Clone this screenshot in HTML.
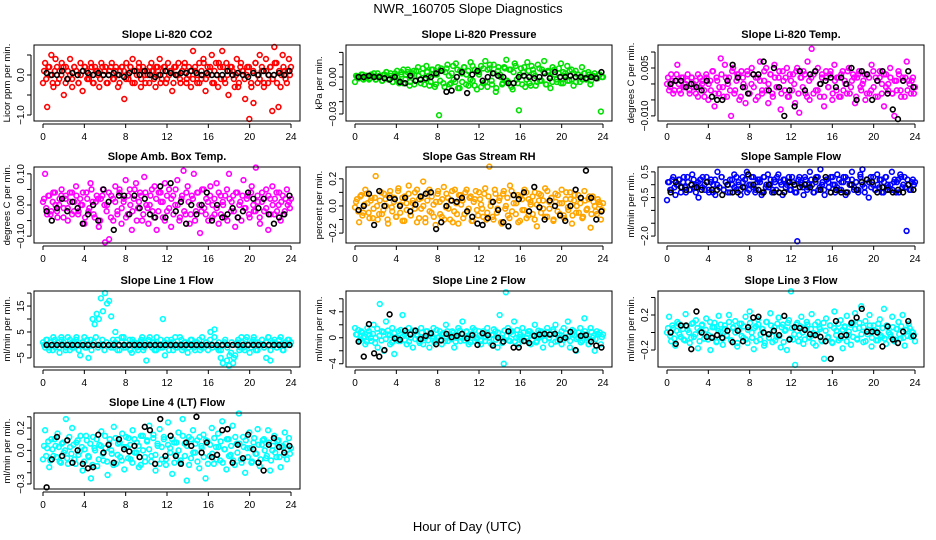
<!DOCTYPE html>
<html><head><meta charset="utf-8"><style>
html,body{margin:0;padding:0;background:#fff;}
svg{display:block;font-family:"Liberation Sans",Arial,sans-serif;}
</style></head><body>
<svg id="chart" width="936" height="540" viewBox="0 0 936 540" xmlns="http://www.w3.org/2000/svg">
<rect width="936" height="540" fill="#fff"/>
<text x="468" y="13" text-anchor="middle" font-size="13">NWR_160705  Slope Diagnostics</text>
<text x="467" y="531" text-anchor="middle" font-size="13">Hour of Day (UTC)</text>
</svg>
<script>
const xTicks=[0,4,8,12,16,20,24];
const co2Vals=[-0.2,0.3,-0.8,0.2,0.5,-0.3,0.4,-0.2,0.1,0.3,-0.5,0.2,-0.1,0.4,-0.3,0.2,0.1,-0.2,0.3,-0.4,0.2,0.1,-0.1,0.3,-0.2,0.2,0.1,-0.3,0.3,0.0,0.2,-0.2,0.1,0.3,-0.1,0.2,-0.3,0.1,0.2,-0.6,0.3,-0.1,0.2,0.4,-0.2,0.1,0.3,-0.3,0.2,0.0,0.1,-0.2,0.3,0.1,-0.3,0.2,0.4,-0.1,0.2,-0.2,0.3,0.1,-0.4,0.2,0.0,0.3,-0.2,0.1,0.3,-0.1,0.2,-0.3,0.6,0.1,-0.2,0.3,-0.1,0.4,-0.4,0.2,0.1,0.5,-0.2,0.3,-0.3,0.2,0.6,-0.1,0.3,-0.5,0.2,0.1,-0.3,0.4,-0.2,0.3,0.1,-0.6,0.2,-1.1,-0.3,-0.7,0.3,-0.2,0.5,0.1,-0.3,0.4,-0.2,0.2,-0.9,0.7,0.3,-0.8,-0.3,0.5,0.1,-0.2,0.4,0.2];
const co2Fill=[0.1,-0.1,0.2,0.0,-0.2,0.1,0.2,-0.1,0.0,0.2,-0.2,0.1,0.0,-0.1,0.2,0.1,-0.2,0.0,0.1,0.2,-0.1,0.0,0.2,-0.2,0.1,0.0,-0.1,0.2,0.1,-0.2,0.0,0.2,-0.1,0.1,0.0,-0.2,0.2,0.1,-0.1,0.0,0.2,-0.2,0.1,0.0,0.2,-0.1,0.1,-0.2,0.0,0.2,0.1,-0.1,0.2,0.0,-0.2,0.1,0.2,-0.1,0.0,0.1,-0.2,0.2,0.0,-0.1,0.1,0.2,-0.2,0.0,0.1,-0.1,0.2,0.0,-0.2,0.1,0.3,-0.1,0.0,0.2,-0.2,0.1,0.0,0.3,-0.1,0.2,-0.2,0.0,0.1,0.2,-0.1,0.0,-0.3,0.2,0.1,-0.1,0.0,0.2,-0.2,0.1,0.3,0.0,-0.1,0.2,-0.2,0.1,0.0,0.2,-0.1,0.3,-0.2,0.1,0.0,0.2,-0.1,0.1,0.0];
const co2Blk=[0.05,0.0,0.0,0.1,-0.1,0.05,0.0,0.1,0.05,0.0,0.05,0.0,0.0,0.05,0.0,-0.05,0.05,0.1,0.0,0.1,0.0,-0.05,0.0,0.1,0.05,0.0,0.05,0.05,0.1,0.05,0.0,0.05,0.0,0.0,0.0,0.1,0.0,0.05,0.0,-0.05,0.05,0.0,0.1,0.0,0.0,0.05,0.0,0.1];
const presVals=[-0.004,0.000,-0.001,0.002,-0.002,0.001,0.000,-0.001,0.001,0.003,-0.002,0.000,0.001,-0.003,0.002,0.004,-0.001,0.001,-0.004,0.003,0.000,-0.005,0.002,0.006,-0.002,0.004,-0.007,0.001,0.005,-0.003,0.008,-0.002,0.003,-0.006,0.009,0.001,-0.004,0.006,-0.008,0.002,-0.031,0.007,-0.005,0.004,0.010,-0.006,0.003,-0.002,0.011,-0.009,0.005,-0.004,0.008,0.002,-0.007,0.012,-0.003,0.006,-0.010,0.004,0.009,-0.005,0.013,-0.008,0.007,-0.003,0.010,-0.012,0.005,0.002,-0.006,0.008,0.014,-0.004,0.006,-0.010,0.011,-0.002,-0.027,0.007,0.004,-0.008,0.012,-0.005,0.009,0.003,-0.007,0.010,-0.003,0.006,0.013,-0.006,0.004,-0.009,0.008,0.002,-0.004,0.007,0.011,-0.005,0.003,0.009,-0.003,0.006,-0.007,0.005,0.002,-0.004,0.008,0.003,-0.002,0.004,-0.006,0.001,0.003,-0.001,0.002,-0.028,0.000];
const presFill=[0.001,-0.001,0.000,0.002,-0.001,0.001,-0.002,0.002,0.000,-0.002,0.003,0.001,-0.003,0.002,0.004,-0.002,0.003,-0.004,0.001,0.005,-0.003,0.004,-0.005,0.002,0.006,-0.004,0.003,-0.006,0.005,0.001,-0.005,0.007,-0.002,0.004,-0.007,0.006,0.002,-0.006,0.008,-0.003,0.005,-0.008,0.007,0.001,-0.005,0.009,-0.004,0.006,-0.009,0.003,0.008,-0.006,0.005,-0.002,0.009,-0.007,0.004,0.002,-0.008,0.007,-0.004,0.006,0.010,-0.006,0.003,-0.009,0.008,0.000,-0.005,0.007,-0.003,0.006,-0.008,0.004,0.009,-0.005,0.002,-0.006,0.008,-0.002,0.005,-0.007,0.006,0.001,-0.004,0.007,-0.003,0.004,-0.006,0.005,0.000,-0.004,0.006,-0.002,0.003,-0.005,0.004,0.001,-0.003,0.005,-0.002,0.003,-0.004,0.002,0.000,-0.002,0.003,-0.001,0.002,-0.003,0.001,0.000,-0.001,0.002,0.000];
const presBlk=[0.000,0.000,0.001,0.000,0.000,-0.001,-0.002,0.000,-0.004,-0.005,0.001,-0.003,-0.002,-0.001,0.000,0.003,0.005,-0.012,-0.011,0.000,0.004,-0.013,0.002,0.005,-0.003,0.000,0.003,0.001,0.000,-0.005,-0.005,0.000,0.001,0.000,-0.001,0.000,0.003,-0.001,0.004,0.000,0.000,0.001,0.000,0.000,-0.001,0.000,-0.001,0.004];
const tempVals=[0.000,-0.002,0.003,-0.003,0.001,0.006,-0.002,0.002,-0.001,0.000,0.003,-0.003,0.002,-0.001,0.001,-0.004,0.002,0.000,-0.002,0.003,-0.005,0.001,0.004,-0.007,0.002,-0.003,0.008,-0.001,0.006,-0.004,0.002,-0.010,0.005,-0.002,0.003,-0.005,0.004,0.000,-0.006,0.003,-0.003,0.005,-0.001,0.002,-0.004,0.007,-0.002,0.001,0.005,-0.006,0.003,-0.003,0.006,-0.001,0.002,-0.008,0.004,-0.002,0.005,-0.004,0.001,0.003,-0.006,0.005,-0.009,0.002,0.004,-0.003,0.007,-0.005,0.011,0.003,-0.002,0.005,-0.004,0.002,-0.007,0.004,-0.001,0.003,-0.005,0.006,-0.002,0.002,-0.004,0.004,0.001,-0.003,0.005,-0.001,0.003,-0.006,0.002,0.004,-0.002,0.001,-0.005,0.003,-0.003,0.006,-0.001,0.002,-0.004,0.004,0.000,-0.007,0.003,-0.002,0.005,-0.003,-0.010,0.001,0.004,-0.002,0.002,-0.004,0.007,0.001,-0.003,0.002,-0.001];
const tempFill=[0.002,-0.001,0.001,-0.002,0.003,0.000,-0.003,0.002,-0.001,0.001,-0.002,0.002,0.000,-0.003,0.003,-0.001,0.001,-0.004,0.002,0.000,-0.002,0.004,-0.003,0.001,-0.001,0.003,-0.004,0.002,0.000,-0.002,0.004,-0.003,0.001,0.003,-0.004,0.002,-0.001,0.004,-0.003,0.000,0.003,-0.005,0.002,0.001,-0.003,0.004,-0.002,0.000,0.003,-0.004,0.002,-0.001,0.004,-0.003,0.001,0.002,-0.004,0.003,-0.002,0.000,0.004,-0.003,0.002,-0.001,0.003,-0.004,0.001,0.002,-0.003,0.004,-0.002,0.000,0.003,-0.004,0.002,-0.001,0.004,-0.003,0.001,0.002,-0.004,0.003,-0.002,0.000,0.004,-0.003,0.001,0.002,-0.004,0.003,-0.001,0.000,0.003,-0.003,0.002,-0.002,0.004,-0.004,0.001,0.002,-0.003,0.003,-0.001,0.000,0.002,-0.003,0.001,-0.002,0.003,-0.004,0.001,0.002,-0.002,0.000,0.001,-0.003];
const tempBlk=[0.000,0.001,0.001,-0.001,0.000,-0.001,-0.002,0.001,-0.004,-0.005,-0.005,0.001,0.006,0.002,-0.001,-0.003,0.003,0.003,0.007,-0.002,0.005,-0.001,-0.010,-0.002,-0.007,0.004,-0.002,0.003,0.004,0.000,0.001,0.002,-0.001,0.002,0.000,0.005,-0.005,0.004,0.003,-0.005,0.001,0.004,-0.003,-0.008,-0.011,0.001,0.004,-0.001];
const boxVals=[0.01,0.10,-0.03,0.03,-0.02,0.04,0.00,-0.04,0.02,0.05,-0.01,0.03,-0.05,0.01,0.04,-0.02,0.06,-0.03,0.02,0.00,-0.06,0.04,-0.02,0.07,0.01,-0.04,0.03,-0.07,0.02,0.05,-0.12,0.00,-0.11,0.03,-0.05,0.06,-0.02,0.04,-0.06,0.01,0.08,-0.03,0.05,-0.08,0.02,0.07,-0.01,0.04,-0.05,0.09,0.00,-0.06,0.03,-0.02,0.06,-0.08,0.04,0.01,-0.04,0.07,-0.02,0.05,-0.07,0.03,0.00,0.08,-0.05,0.02,0.11,-0.03,0.06,-0.06,0.03,0.10,-0.02,0.04,-0.09,0.05,-0.01,0.02,-0.05,0.06,0.00,-0.03,0.07,-0.06,0.03,0.01,-0.04,0.05,0.10,-0.02,0.03,-0.07,0.04,0.00,-0.05,0.08,-0.01,0.03,-0.04,0.06,-0.02,0.12,0.01,-0.06,0.04,-0.02,0.05,-0.08,0.02,0.06,-0.03,0.04,0.00,-0.05,0.03,-0.02,0.05,0.01,0.02];
const boxFill=[0.02,-0.01,0.03,-0.03,0.01,0.04,-0.02,0.00,0.03,-0.04,0.02,-0.01,0.04,-0.03,0.01,0.03,-0.02,0.00,0.04,-0.04,0.02,-0.01,0.05,-0.03,0.01,0.02,-0.05,0.03,0.00,-0.02,0.04,-0.04,0.02,0.01,-0.03,0.05,-0.01,0.02,-0.04,0.03,0.00,-0.02,0.05,-0.05,0.01,0.03,-0.03,0.04,-0.01,0.00,0.05,-0.04,0.02,-0.02,0.04,0.01,-0.05,0.03,-0.01,0.02,-0.03,0.05,0.00,-0.04,0.03,-0.02,0.04,0.01,-0.03,0.02,-0.05,0.04,0.00,-0.02,0.05,-0.03,0.01,0.03,-0.04,0.02,-0.01,0.04,-0.03,0.00,0.03,-0.05,0.02,0.01,-0.02,0.04,-0.04,0.01,0.03,-0.01,0.02,-0.03,0.04,0.00,-0.02,0.03,-0.04,0.01,0.02,-0.01,0.03,-0.03,0.00,0.02,-0.02,0.04,0.01,-0.03,0.02,0.00,-0.01];
const boxBlk=[-0.02,-0.05,-0.01,0.02,-0.02,0.01,-0.01,-0.06,-0.03,0.00,-0.05,0.05,0.01,-0.08,0.03,0.03,-0.03,0.03,-0.01,0.02,-0.03,-0.04,0.06,-0.04,0.07,-0.02,0.01,-0.06,0.00,-0.03,0.00,0.04,-0.05,0.00,-0.04,-0.03,-0.01,-0.04,-0.02,0.04,0.02,-0.01,0.02,-0.03,-0.06,-0.04,-0.03,0.03];
const rhVals=[-0.01,0.05,-0.12,0.08,-0.05,0.12,0.02,-0.09,0.06,-0.02,0.22,-0.10,0.04,-0.06,0.09,0.00,-0.13,0.11,-0.04,0.06,-0.08,0.13,0.01,-0.11,0.07,-0.03,0.15,-0.07,0.02,0.10,-0.12,0.05,-0.02,0.18,-0.09,0.04,0.12,-0.05,0.01,-0.14,0.09,0.03,-0.08,0.14,-0.01,0.06,-0.10,0.11,-0.04,0.02,-0.13,0.08,0.04,-0.06,0.12,-0.02,0.07,-0.11,0.05,-0.03,0.10,0.01,-0.08,0.13,-0.05,0.29,0.03,-0.10,0.09,-0.02,0.06,-0.13,0.11,0.00,-0.07,0.15,-0.04,0.08,0.02,-0.12,0.07,-0.03,0.12,-0.09,0.05,0.01,-0.06,0.10,-0.15,0.04,0.08,-0.02,0.13,-0.08,0.03,0.06,-0.11,0.09,-0.04,0.02,0.12,-0.07,0.05,-0.01,0.10,-0.13,0.04,-0.05,0.08,0.02,-0.09,0.11,-0.03,0.05,-0.16,0.07,0.00,-0.06,0.03,-0.10,0.02];
const rhFill=[0.03,-0.04,0.07,-0.07,0.01,0.09,-0.05,0.04,-0.09,0.06,0.00,-0.06,0.10,-0.03,0.05,-0.10,0.08,-0.01,0.03,-0.08,0.11,-0.05,0.06,-0.11,0.02,0.09,-0.07,0.04,-0.02,0.12,-0.09,0.06,0.00,-0.12,0.10,-0.04,0.07,-0.08,0.03,0.11,-0.06,0.05,-0.10,0.09,-0.02,0.04,-0.12,0.12,-0.06,0.08,0.01,-0.09,0.10,-0.04,0.06,-0.11,0.03,0.11,-0.07,0.05,-0.02,0.09,-0.10,0.07,0.00,-0.08,0.12,-0.05,0.04,-0.12,0.09,-0.02,0.06,-0.09,0.11,0.02,-0.06,0.08,-0.11,0.05,-0.03,0.10,-0.07,0.03,0.07,-0.10,0.01,0.09,-0.05,0.04,-0.08,0.11,-0.02,0.06,-0.10,0.03,0.08,-0.06,0.02,-0.09,0.10,-0.03,0.05,-0.07,0.08,0.00,-0.05,0.06,-0.08,0.04,-0.02,0.07,-0.06,0.03,-0.04,0.05,0.01,-0.03];
const rhBlk=[-0.03,0.00,0.09,-0.14,0.11,0.00,0.06,0.05,0.00,0.06,-0.04,0.01,0.07,0.09,0.10,-0.17,-0.12,0.00,0.04,0.03,0.06,-0.04,-0.08,-0.13,-0.14,-0.09,0.03,-0.03,-0.12,-0.15,0.08,0.05,0.10,-0.04,0.14,-0.01,-0.10,0.04,0.00,-0.07,-0.11,0.00,0.12,0.06,0.26,0.06,-0.10,-0.04];
const flowVals=[-0.6,0.1,-0.2,0.3,-0.4,0.0,0.2,-0.1,0.3,-0.3,0.1,-0.2,0.4,-0.1,0.0,-0.5,0.2,0.3,-0.2,0.1,-0.3,0.2,0.0,-0.4,0.5,-0.1,0.3,-0.2,0.1,-0.3,0.2,0.0,0.4,-0.2,0.1,-0.4,0.3,-0.1,0.5,-0.2,0.0,0.3,-0.3,0.1,0.2,-0.4,0.3,-0.1,0.4,0.0,-0.3,0.2,-0.2,0.4,0.1,-0.4,0.2,0.0,0.3,-0.2,0.1,-0.3,-2.2,0.3,0.0,-0.4,0.2,-0.1,0.5,0.0,-0.3,0.3,-0.2,0.6,0.1,-0.4,0.2,-0.1,0.3,0.0,-0.3,0.4,-0.2,0.1,0.3,-0.4,0.2,0.0,0.5,-0.2,0.1,-0.3,0.4,0.6,-0.1,0.2,-0.5,0.3,0.0,-0.2,0.4,-0.1,0.2,-0.3,0.3,0.0,-0.2,0.5,0.1,-0.3,0.2,0.4,-0.1,0.3,-1.8,0.0,-0.2,0.2,0.1];
const flowFill=[0.1,-0.2,0.2,-0.1,0.0,0.2,-0.3,0.1,-0.1,0.3,-0.2,0.0,0.2,-0.3,0.1,0.2,-0.1,0.0,0.3,-0.2,0.1,-0.3,0.2,0.0,-0.1,0.3,-0.2,0.1,0.0,-0.3,0.2,-0.1,0.3,0.0,-0.2,0.1,0.2,-0.3,0.0,0.3,-0.1,-0.2,0.2,0.1,-0.3,0.3,0.0,-0.1,0.2,-0.2,0.1,0.3,-0.3,0.0,0.2,-0.1,0.1,-0.2,0.3,0.0,-0.3,0.2,0.1,-0.1,0.3,-0.2,0.0,0.2,-0.3,0.1,0.3,-0.1,0.0,-0.2,0.2,0.1,-0.3,0.3,0.0,-0.1,0.2,-0.2,0.1,0.3,-0.3,0.0,0.2,-0.1,0.1,-0.2,0.3,0.0,-0.3,0.2,0.1,-0.1,0.3,-0.2,0.0,0.2,-0.3,0.1,0.3,-0.1,0.0,-0.2,0.2,0.1,-0.3,0.3,0.0,-0.1,0.2,-0.2,0.1,0.0];
const flowBlk=[-0.3,0.1,-0.1,-0.2,0.0,-0.1,-0.2,0.1,-0.2,-0.2,-0.4,0.0,-0.3,-0.3,-0.1,0.4,0.0,-0.2,-0.3,0.0,-0.3,-0.3,-0.3,0.1,0.0,-0.1,0.0,-0.1,0.2,-0.2,0.3,-0.3,-0.2,-0.3,-0.3,0.0,-0.2,0.1,0.2,0.1,-0.3,-0.1,-0.2,-0.3,-0.2,-0.3,0.0,-0.2];
const l1Vals=[1,-1,2,-2,0,3,-1,1,-3,2,0,-1,3,-2,1,-1,2,0,-4,1,3,-1,-5,2,10,8,12,10,18,13,20,16,17,11,-1,5,2,-2,1,3,-1,0,2,-3,1,0,-2,1,3,-1,-6,2,0,1,-2,3,0,-1,10,-4,2,0,1,-2,3,-1,0,2,-1,1,-3,0,2,-1,1,0,-2,3,-1,1,0,5,-1,6,0,-2,-5,-7,1,-6,-8,-3,-7,-4,1,-2,3,-1,2,0,-3,1,3,-2,1,0,2,-1,-5,3,-6,1,2,-1,0,3,-2,1,0,2,1];
const l1Fill=[0,2,-1,1,-2,2,0,-1,3,1,-2,0,2,-1,1,3,-2,0,1,-1,2,0,-2,1,3,-1,0,2,-2,1,0,-1,2,1,-2,0,3,-1,1,0,-2,2,1,-1,0,2,-2,1,0,3,-1,1,-2,0,2,-1,1,0,-2,2,1,-1,0,3,-2,1,0,-1,2,0,-2,1,2,-1,0,1,-2,2,0,3,-1,1,-2,0,2,-1,-4,1,-5,0,2,-1,1,-2,3,0,-1,2,1,-2,0,2,-1,1,3,-2,0,1,-1,2,0,-2,1,2,0];
const l1Blk=[0,0,0,0,0,0,0,0,0,0,0,0,0,0,0,0,0,0,0,0,0,0,0,0,0,0,0,0,0,0,0,0,0,0,0,0,0,0,0,0,0,0,0,0,0,0,0,0];
const l2Vals=[1.5,0.5,-0.5,1.0,0.0,-1.0,1.5,0.5,-0.5,2.0,0.0,-1.5,5.2,1.0,-2.0,2.5,0.5,-1.0,1.5,-2.5,0.0,1.0,-0.5,3.5,0.5,-1.0,1.5,0.0,-1.5,1.0,0.5,-0.5,1.5,-1.0,0.0,1.0,-1.5,0.5,1.5,-0.5,0.0,1.0,-1.0,0.5,2.0,-0.5,0.5,1.0,-1.5,0.0,1.5,-0.5,2.5,0.0,1.0,-1.0,0.5,1.5,-0.5,0.0,1.0,-1.0,0.5,-0.5,1.5,0.0,-1.0,0.5,1.0,-1.5,3.5,0.0,-4.0,7.0,1.5,-0.5,1.0,2.5,0.0,-1.0,0.5,1.5,-0.5,0.0,1.0,-1.0,0.5,2.0,-0.5,0.0,1.0,-1.5,0.5,1.5,0.0,-1.0,1.0,2.0,-0.5,0.5,-1.0,1.5,0.0,2.5,-1.5,0.5,1.0,-2.0,0.0,1.5,-0.5,3.0,0.5,-1.0,1.5,0.0,-2.0,1.0,0.5,-1.0,0.5];
const l2Fill=[0.5,1.2,-0.3,0.8,0.2,-0.6,1.0,0.0,0.6,-0.8,1.4,0.3,-0.4,0.9,-0.2,1.1,0.4,-0.7,0.7,0.1,-0.5,1.2,0.2,-0.3,0.9,-0.6,0.5,1.1,-0.2,0.3,-0.8,0.8,0.0,1.0,-0.4,0.6,0.2,-0.7,1.2,0.1,-0.3,0.7,-0.5,1.0,0.3,-0.2,0.8,-0.6,0.4,1.1,0.0,-0.4,0.9,0.2,-0.7,0.6,1.2,-0.2,0.3,-0.5,1.0,0.1,0.7,-0.6,0.4,1.3,-0.3,0.8,0.0,-0.8,1.1,0.3,-0.4,0.9,0.5,-0.6,1.2,0.1,-0.2,0.8,-0.5,0.6,1.0,-0.3,0.3,-0.7,1.1,0.2,0.7,-0.4,0.9,-0.1,0.5,1.3,-0.6,0.4,0.0,1.0,-0.3,0.7,0.2,-0.5,1.2,0.4,-0.2,0.8,-0.7,0.6,1.0,0.0,-0.4,0.9,0.3,-0.2,0.6,0.8,0.1];
const l2Blk=[-0.6,-2.9,2.1,-2.4,-2.9,-1.9,3.6,-0.1,-0.3,1.1,0.5,1.1,-0.2,0.3,0.7,-1.0,-0.4,0.6,0.1,0.3,0.6,-0.1,0.4,-1.1,0.7,0.4,-1.2,0.0,-0.6,1.0,-1.5,-1.5,-0.5,-0.8,0.3,0.5,0.6,0.5,0.6,-0.3,0.0,0.9,-1.9,0.3,0.4,-0.6,-1.2,-1.5];
const l3Vals=[0.00,0.18,-0.10,0.05,-0.15,0.12,-0.02,0.08,-0.08,0.21,0.03,-0.12,0.10,-0.05,0.14,-0.18,0.02,0.09,-0.07,0.16,-0.03,-0.20,0.06,0.11,-0.10,0.19,0.01,-0.14,0.08,-0.04,0.20,-0.09,0.05,0.13,-0.16,0.03,0.10,-0.06,0.18,-0.12,0.24,0.00,-0.19,0.07,0.15,-0.08,0.04,-0.15,0.12,-0.02,0.22,-0.11,0.06,-0.05,0.17,-0.17,0.09,0.02,-0.20,0.14,0.47,-0.08,-0.37,0.11,-0.03,0.18,-0.13,0.05,0.09,-0.06,0.21,-0.01,-0.15,0.12,0.04,-0.10,-0.30,0.16,-0.05,0.08,-0.12,0.24,0.02,-0.09,0.14,-0.18,0.06,0.19,-0.03,-0.14,0.11,0.22,-0.07,0.05,0.30,-0.11,0.13,-0.02,0.20,-0.16,0.08,0.02,-0.09,0.15,-0.05,0.27,-0.13,0.07,-0.02,0.18,-0.10,0.04,0.12,-0.07,0.20,-0.15,0.03,0.10,-0.05,0.00,-0.10];
const l3Fill=[0.05,-0.04,0.08,-0.07,0.02,0.10,-0.05,0.04,-0.09,0.07,0.00,-0.06,0.11,-0.02,0.05,-0.10,0.08,-0.01,0.03,-0.08,0.12,-0.05,0.06,-0.11,0.02,0.09,-0.07,0.04,-0.03,0.12,-0.09,0.06,0.00,-0.12,0.10,-0.04,0.07,-0.08,0.03,0.11,-0.06,0.05,-0.10,0.09,-0.02,0.04,-0.12,0.12,-0.06,0.08,0.01,-0.09,0.10,-0.04,0.06,-0.11,0.03,0.11,-0.07,0.05,-0.02,0.09,-0.10,0.07,0.00,-0.08,0.12,-0.05,0.04,-0.12,0.09,-0.02,0.06,-0.09,0.11,0.02,-0.06,0.08,-0.11,0.05,-0.03,0.10,-0.07,0.03,0.07,-0.10,0.01,0.09,-0.05,0.04,-0.08,0.11,-0.02,0.06,-0.10,0.03,0.08,-0.06,0.02,-0.09,0.10,-0.03,0.05,-0.07,0.08,0.00,-0.05,0.06,-0.08,0.04,-0.02,0.07,-0.06,0.03,-0.04,0.05,0.01,-0.03];
const l3Blk=[0.00,-0.13,0.08,0.08,-0.19,0.24,0.00,-0.05,-0.06,-0.03,-0.06,0.02,-0.11,0.02,-0.10,0.06,0.17,0.18,0.00,-0.02,0.02,-0.03,0.19,-0.08,0.06,0.05,0.03,-0.02,-0.03,-0.05,-0.10,-0.30,0.13,-0.04,-0.03,0.11,0.17,0.27,0.01,0.01,0.00,-0.16,0.07,-0.08,-0.12,0.01,0.13,-0.04];
const l4Vals=[-0.08,0.18,0.02,-0.15,0.10,-0.05,0.04,0.15,-0.10,0.06,-0.02,0.28,-0.12,0.03,0.20,-0.08,0.07,-0.04,0.13,-0.18,0.01,0.09,-0.06,-0.25,0.12,0.00,-0.14,0.05,0.17,-0.09,0.02,-0.22,0.10,-0.03,0.21,-0.12,0.06,-0.06,0.15,-0.17,0.03,0.11,-0.08,0.18,-0.02,0.07,-0.15,0.13,0.00,-0.10,0.09,0.22,-0.05,0.14,-0.18,0.04,0.19,-0.08,0.10,-0.13,0.25,0.02,-0.21,0.07,-0.04,0.16,-0.11,0.28,0.06,-0.27,0.12,-0.07,0.18,-0.02,0.09,-0.16,0.04,0.14,-0.25,0.08,-0.05,0.20,-0.12,0.03,0.15,-0.09,0.26,0.01,-0.17,0.10,-0.04,0.22,-0.13,0.06,0.33,-0.08,0.12,-0.20,0.02,0.16,-0.11,0.07,-0.03,0.19,-0.14,0.05,0.10,-0.07,0.18,-0.18,0.00,0.13,-0.06,0.09,-0.15,0.04,0.16,-0.08,0.11,0.02];
const l4Fill=[0.04,-0.05,0.08,-0.09,0.01,0.10,-0.06,0.03,-0.11,0.07,0.00,-0.07,0.12,-0.03,0.05,-0.12,0.09,-0.01,0.03,-0.10,0.13,-0.05,0.06,-0.13,0.02,0.10,-0.08,0.04,-0.03,0.13,-0.10,0.06,0.00,-0.13,0.11,-0.04,0.07,-0.09,0.03,0.12,-0.07,0.05,-0.11,0.10,-0.02,0.04,-0.13,0.13,-0.06,0.08,0.01,-0.10,0.11,-0.04,0.06,-0.12,0.03,0.12,-0.08,0.05,-0.02,0.10,-0.11,0.07,0.00,-0.09,0.13,-0.05,0.04,-0.13,0.10,-0.02,0.06,-0.10,0.12,0.02,-0.06,0.09,-0.12,0.05,-0.03,0.11,-0.08,0.03,0.08,-0.11,0.01,0.10,-0.05,0.04,-0.09,0.12,-0.02,0.06,-0.11,0.03,0.09,-0.06,0.02,-0.10,0.11,-0.03,0.05,-0.08,0.09,0.00,-0.05,0.07,-0.09,0.04,-0.02,0.08,-0.06,0.03,-0.04,0.06,0.01,-0.03];
const l4Blk=[-0.33,-0.08,0.12,-0.05,0.09,-0.11,0.00,-0.12,-0.16,-0.15,0.14,-0.02,0.05,-0.11,0.10,0.01,-0.01,0.04,-0.06,0.21,0.18,-0.12,0.28,-0.05,0.13,-0.05,-0.12,0.07,0.04,0.30,-0.02,0.07,-0.06,-0.04,0.18,0.19,-0.11,0.05,-0.07,0.14,0.01,-0.11,-0.18,0.05,0.11,0.03,-0.02,0.04];

const colX=[34,346,658], rowY=[45,167,291,413], PW=266, PH=76;
const panels=[
 {id:'co2',t:'Slope Li-820 CO2',yl:'Licor ppm per min.',c:'#ff0000',v:co2Vals,f:co2Fill,b:co2Blk,d:[-1.15,0.75],ticks:[-1.0,-0.5,0.0,0.5],lab:{'-1':'-1.0','0':'0.0'}},
 {id:'pressure',t:'Slope Li-820 Pressure',yl:'kPa per min.',c:'#00e000',v:presVals,f:presFill,b:presBlk,d:[-0.0357,0.026],ticks:[-0.03,-0.02,-0.01,0,0.01,0.02],lab:{'-0.03':'-0.03','0':'0.00'}},
 {id:'temp',t:'Slope Li-820 Temp.',yl:'degrees C per min.',c:'#ff00ff',v:tempVals,f:tempFill,b:tempBlk,d:[-0.0116,0.0122],ticks:[-0.01,-0.005,0,0.005,0.01],lab:{'-0.01':'-0.010','0.005':'0.005'}},
 {id:'amb-box-temp',t:'Slope Amb. Box Temp.',yl:'degrees C per min.',c:'#ff00ff',v:boxVals,f:boxFill,b:boxBlk,d:[-0.122,0.122],ticks:[-0.1,-0.05,0,0.05,0.1],lab:{'-0.1':'-0.10','0':'0.00','0.1':'0.10'}},
 {id:'gas-rh',t:'Slope Gas Stream RH',yl:'percent per min.',c:'#ffa500',v:rhVals,f:rhFill,b:rhBlk,d:[-0.273,0.287],ticks:[-0.2,-0.1,0,0.1,0.2],lab:{'-0.2':'-0.2','0':'0.0','0.2':'0.2'}},
 {id:'sample-flow',t:'Slope Sample Flow',yl:'ml/min per min.',c:'#0000ff',v:flowVals,f:flowFill,b:flowBlk,d:[-2.27,0.69],ticks:[-2,-1.5,-1,-0.5,0,0.5],lab:{'-2':'-2.0','-0.5':'-0.5','0.5':'0.5'}},
 {id:'line1-flow',t:'Slope Line 1 Flow',yl:'ml/min per min.',c:'#00ffff',v:l1Vals,f:l1Fill,b:l1Blk,d:[-8.5,20.8],ticks:[-5,0,5,10,15,20],lab:{'-5':'-5','5':'5','15':'15'}},
 {id:'line2-flow',t:'Slope Line 2 Flow',yl:'ml/min per min.',c:'#00ffff',v:l2Vals,f:l2Fill,b:l2Blk,d:[-4.5,7.2],ticks:[-4,-2,0,2,4,6],lab:{'-4':'-4','0':'0','4':'4'}},
 {id:'line3-flow',t:'Slope Line 3 Flow',yl:'ml/min per min.',c:'#00ffff',v:l3Vals,f:l3Fill,b:l3Blk,d:[-0.394,0.474],ticks:[-0.4,-0.2,0,0.2,0.4],lab:{'-0.2':'-0.2','0.2':'0.2'}},
 {id:'line4-flow',t:'Slope Line 4 (LT) Flow',yl:'ml/min per min.',c:'#00ffff',v:l4Vals,f:l4Fill,b:l4Blk,d:[-0.345,0.334],ticks:[-0.3,-0.2,-0.1,0,0.1,0.2,0.3],lab:{'-0.3':'-0.3','0':'0.0','0.2':'0.2'}}
];
const svg=document.getElementById('chart');
const NS='http://www.w3.org/2000/svg';
function mk(tag,attrs,parent){const e=document.createElementNS(NS,tag);for(const k in attrs)e.setAttribute(k,attrs[k]);parent.appendChild(e);return e;}
panels.forEach((p,i)=>{
 const px=colX[i%3], py=rowY[Math.floor(i/3)];
 const g=mk('g',{},svg);
 
 
 const sx=h=>px+9+h*248/24;
 const sy=v=>py+PH-(v-p.d[0])/(p.d[1]-p.d[0])*PH;
 const tt=mk('text',{x:px+PW/2,y:py-7,'text-anchor':'middle','font-size':'11','font-weight':'bold'},g);
 tt.textContent=p.t;
 
 
 const yl=mk('text',{transform:'translate('+(px-24)+','+(py+PH/2)+') rotate(-90)','text-anchor':'middle','font-size':'9.5'},g);
 yl.textContent=p.yl;
 
 
 const pts=mk('g',{fill:'none','stroke-width':'1.6'},g);
 
 
 p.f.forEach((v,k)=>{
  const c=mk('circle',{cx:sx((k+0.5)*24/p.f.length),cy:sy(v),r:2.4,stroke:p.c},pts);
  
  
 });
 p.v.forEach((v,k)=>{
  const c=mk('circle',{cx:sx(k*24/(p.v.length-1)),cy:sy(v),r:2.4,stroke:p.c},pts);
  
  
 });
 p.b.forEach((v,k)=>{
  const c=mk('circle',{cx:sx((k+0.7)*24/p.b.length),cy:sy(v),r:2.4,stroke:'#000'},pts);
  
  
 });
 const box=mk('rect',{x:px,y:py,width:PW,height:PH,fill:'none',stroke:'#000','stroke-width':'1'},g);
 
 
 const xa=mk('g',{stroke:'#000','stroke-width':'1'},g);
 
 
 mk('line',{x1:sx(0),x2:sx(24),y1:py+PH+3,y2:py+PH+3},xa);
 xTicks.forEach(t=>{
  mk('line',{x1:sx(t),x2:sx(t),y1:py+PH+3,y2:py+PH+7},xa);
  const lt=mk('text',{x:sx(t),y:py+PH+19,'text-anchor':'middle','font-size':'10',stroke:'none',fill:'#000'},xa);
  lt.textContent=t;
  
  
 });
 const ya=mk('g',{stroke:'#000','stroke-width':'1'},g);
 
 
 const yt=p.ticks.filter(t=>t>=p.d[0]&&t<=p.d[1]);
 mk('line',{x1:px-3,x2:px-3,y1:sy(yt[0]),y2:sy(yt[yt.length-1])},ya);
 yt.forEach(t=>{
  mk('line',{x1:px-7,x2:px-3,y1:sy(t),y2:sy(t)},ya);
  const key=String(t);
  if(p.lab[key]!==undefined){
   const lt=mk('text',{transform:'translate('+(px-10)+','+sy(t)+') rotate(-90)','text-anchor':'middle','font-size':'10',stroke:'none',fill:'#000'},ya);
   lt.textContent=p.lab[key].replace('-','\u2212');
   
   
  }
 });
});
</script>
</body></html>
